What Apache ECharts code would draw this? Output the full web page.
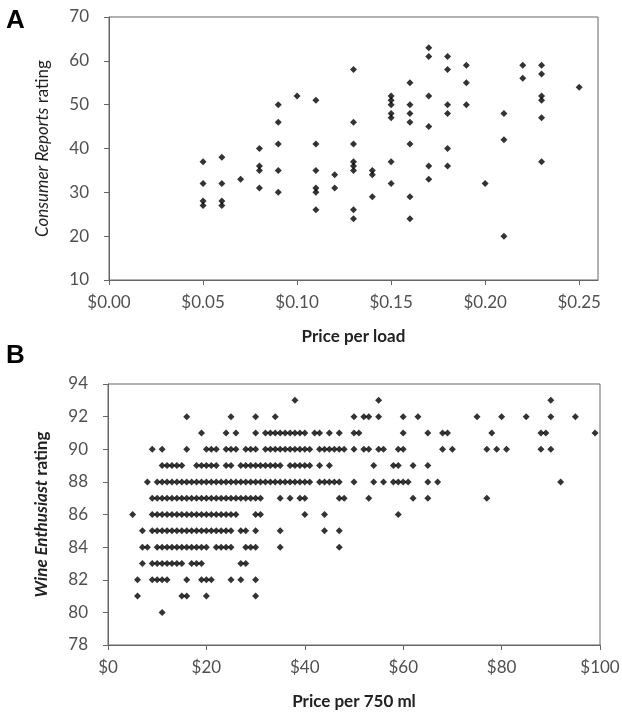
<!DOCTYPE html>
<html>
<head>
<meta charset="utf-8">
<script src="https://cdn.jsdelivr.net/npm/echarts@6/dist/echarts.min.js"></script>
<style>
  html, body { margin: 0; padding: 0; background: #ffffff; }
  #chart { width: 622px; height: 713px; }
</style>
</head>
<body>
<div id="chart"></div>
<script>
// Panel A: laundry detergents, price per load vs. Consumer Reports rating
const loadPrices = [0.05, 0.06, 0.07, 0.08, 0.09, 0.10, 0.11, 0.12, 0.13, 0.14,
                    0.15, 0.16, 0.17, 0.18, 0.19, 0.20, 0.21, 0.22, 0.23, 0.25];
const loadRatings = [
  [37, 32, 28, 27],
  [38, 32, 28, 27],
  [33],
  [40, 36, 35, 31],
  [50, 46, 41, 35, 30],
  [52],
  [51, 41, 35, 31, 30, 26],
  [34, 31],
  [58, 46, 41, 37, 36, 35, 26, 24],
  [35, 34, 29],
  [52, 51, 50, 48, 47, 37, 32],
  [55, 50, 48, 46, 41, 29, 24],
  [63, 61, 52, 45, 36, 33],
  [61, 58, 50, 48, 40, 36],
  [59, 55, 50],
  [32],
  [48, 42, 20],
  [59, 56],
  [59, 57, 52, 51, 47, 37],
  [54]
];
const loadPriceTicks = [0, 0.05, 0.10, 0.15, 0.20, 0.25];
const consumerRatingTicks = [10, 20, 30, 40, 50, 60, 70];

// Panel B: wines, price per 750 ml vs. Wine Enthusiast rating
const wineRatings = [93, 92, 91, 90, 89, 88, 87, 86, 85, 84, 83, 82, 81, 80];
const winePrices = [
  [38, 55, 90],
  [16, 25, 30, 34, 50, 52, 53, 55, 60, 63, 75, 80, 85, 90, 95],
  [19, 24, 26, 30, 32, 33, 34, 35, 36, 37, 38, 39, 40, 42, 43, 45, 47, 50, 51, 60, 65, 68, 69, 78, 88, 89, 99],
  [9, 11, 16, 20, 21, 22, 24, 25, 26, 28, 29, 30, 32, 33, 34, 35, 36, 37, 38, 39, 40, 41,
   43, 44, 45, 46, 47, 48, 50, 52, 53, 55, 56, 59, 60, 68, 70, 77, 79, 81, 88, 90],
  [11, 12, 13, 14, 15, 18, 19, 20, 21, 22, 24, 25, 27, 28, 29, 30, 31, 32, 33, 34, 35,
   37, 38, 39, 40, 41, 43, 45, 54, 58, 59, 62, 65],
  [8, 10, 11, 12, 13, 14, 15, 16, 17, 18, 19, 20, 21, 22, 23, 24, 25, 26, 27, 28, 29, 30,
   31, 32, 33, 34, 35, 36, 37, 38, 39, 40, 41, 43, 44, 45, 46, 47, 50, 54, 56, 58, 59, 60, 61, 65, 67, 92],
  [9, 10, 11, 12, 13, 14, 15, 16, 17, 18, 19, 20, 21, 22, 23, 24, 25, 26, 27, 28, 29, 30, 31,
   35, 37, 39, 40, 47, 48, 53, 62, 65, 77],
  [5, 9, 10, 11, 12, 13, 14, 15, 16, 17, 18, 19, 20, 21, 22, 23, 24, 25, 26, 30, 31, 40, 44, 59],
  [7, 9, 10, 11, 12, 13, 14, 15, 16, 17, 18, 19, 20, 21, 22, 23, 24, 25, 27, 28, 30, 35, 44, 47],
  [7, 8, 10, 11, 12, 13, 14, 15, 16, 17, 18, 19, 20, 22, 23, 24, 25, 28, 29, 30, 35, 47],
  [7, 9, 10, 11, 12, 13, 14, 15, 17, 18, 19, 27, 28],
  [6, 9, 10, 11, 12, 16, 19, 20, 21, 25, 27, 30],
  [6, 15, 16, 20, 30],
  [11]
];
const winePriceTicks = [0, 20, 40, 60, 80, 100];
const wineRatingTicks = [78, 80, 82, 84, 86, 88, 90, 92, 94];

// Flatten the per-column / per-row lists into [x, y] pairs
const detergentPoints = [];
loadPrices.forEach((p, i) => loadRatings[i].forEach(r => detergentPoints.push([p, r])));
const winePoints = [];
wineRatings.forEach((r, i) => winePrices[i].forEach(p => winePoints.push([p, r])));

const lineColor = '#666666';
const textColor = '#505050';
const labelFont = 'Lato';

function valueAxis(extra) {
  return Object.assign({
    type: 'value',
    splitLine: { show: false },
    axisLine: { show: true, onZero: false, lineStyle: { color: lineColor, width: 1 } },
    nameLocation: 'middle',
    nameTextStyle: { color: '#222222', fontFamily: labelFont, fontSize: 17, fontWeight: 'bold' }
  }, extra);
}

const chart = echarts.init(document.getElementById('chart'), null, { renderer: 'canvas' });
chart.setOption({
  animation: false,
  backgroundColor: '#ffffff',
  grid: [
    { left: 109, top: 17, width: 489, height: 263, show: true, borderColor: lineColor, borderWidth: 1, outerBoundsMode: 'none' },
    { left: 108, top: 384, width: 492, height: 261, show: true, borderColor: lineColor, borderWidth: 1, outerBoundsMode: 'none' }
  ],
  xAxis: [
    valueAxis({
      gridIndex: 0, min: 0, max: 0.26, interval: 0.05,
      axisTick: { show: true, length: 5, lineStyle: { color: lineColor }, customValues: loadPriceTicks },
      axisLabel: { customValues: loadPriceTicks, formatter: v => '$' + v.toFixed(2),
                   color: textColor, fontFamily: labelFont, fontSize: 17, margin: 14 },
      name: 'Price per load', nameGap: 48
    }),
    valueAxis({
      gridIndex: 1, min: 0, max: 100, interval: 20,
      axisTick: { show: true, length: 5, lineStyle: { color: lineColor }, customValues: winePriceTicks },
      axisLabel: { customValues: winePriceTicks, formatter: v => '$' + v,
                   color: textColor, fontFamily: labelFont, fontSize: 17, margin: 14 },
      name: 'Price per 750 ml', nameGap: 48
    })
  ],
  yAxis: [
    valueAxis({
      gridIndex: 0, min: 10, max: 70, interval: 10,
      axisTick: { show: true, length: 5, lineStyle: { color: lineColor }, customValues: consumerRatingTicks },
      axisLabel: { customValues: consumerRatingTicks, color: textColor, fontFamily: labelFont, fontSize: 17, margin: 20 },
      name: '{it|Consumer Reports} rating', nameGap: 58,
      nameTextStyle: {
        color: '#222222', fontFamily: labelFont, fontSize: 17,
        rich: { it: { fontStyle: 'italic', fontFamily: labelFont, fontSize: 17, color: '#222222' } }
      }
    }),
    valueAxis({
      gridIndex: 1, min: 78, max: 94, interval: 2,
      axisTick: { show: true, length: 5, lineStyle: { color: lineColor }, customValues: wineRatingTicks },
      axisLabel: { customValues: wineRatingTicks, color: textColor, fontFamily: labelFont, fontSize: 17, margin: 20 },
      name: '{it|Wine Enthusiast} rating', nameGap: 58,
      nameTextStyle: {
        color: '#222222', fontFamily: labelFont, fontSize: 17, fontWeight: 'bold',
        rich: { it: { fontStyle: 'italic', fontWeight: 'bold', fontFamily: labelFont, fontSize: 17, color: '#222222' } }
      }
    })
  ],
  graphic: [
    { type: 'text', left: 6, top: 8, style: { text: 'A', font: 'bold 26px "Liberation Sans"', fill: '#000000' } },
    { type: 'text', left: 6, top: 343, style: { text: 'B', font: 'bold 26px "Liberation Sans"', fill: '#000000' } }
  ],
  series: [
    { type: 'scatter', xAxisIndex: 0, yAxisIndex: 0, data: detergentPoints,
      symbol: 'diamond', symbolSize: 7, itemStyle: { color: '#000000' } },
    { type: 'scatter', xAxisIndex: 1, yAxisIndex: 1, data: winePoints,
      symbol: 'diamond', symbolSize: 7, itemStyle: { color: '#000000' } }
  ]
});
</script>
</body>
</html>
